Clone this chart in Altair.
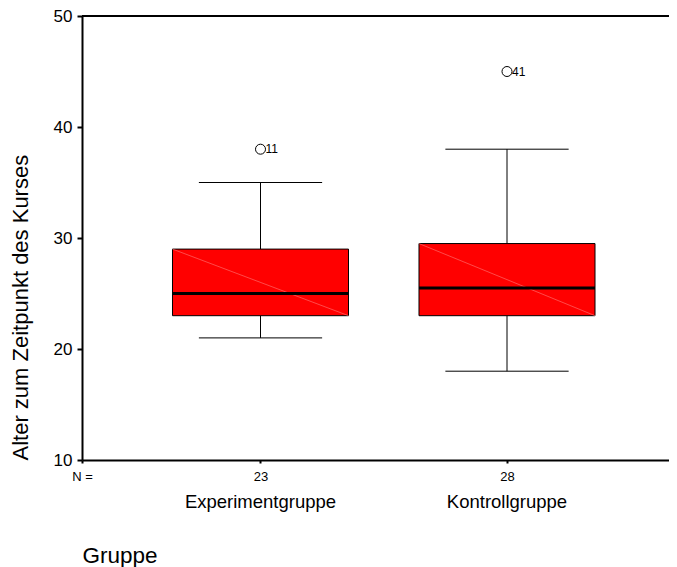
import altair as alt
import pandas as pd

# ---- data ----
groups = ["Experimentgruppe", "Kontrollgruppe"]
n_values = [23, 28]
lower_whisker = [21, 18]
q1 = [23, 23]
median = [25, 25.5]
q3 = [29, 29.5]
upper_whisker = [35, 38]
outlier_values = [38, 45]
outlier_ids = ["11", "41"]
y_ticks = [10, 20, 30, 40, 50]

# ---- layout constants ----
FONT = "Liberation Sans"
PLOT_W = 587
UNIT = 246.5          # pixels per group step
FIRST_CENTER = 178.5  # pixels from the left axis to the first group centre
X_MIN = 1 - FIRST_CENTER / UNIT
X_MAX = X_MIN + PLOT_W / UNIT
BOX_HALF = 0.357
CAP_HALF = 0.25

pos = [i + 1 for i in range(len(groups))]
df = pd.DataFrame({
    "group": groups, "pos": pos, "n": n_values,
    "lw": lower_whisker, "q1": q1, "med": median, "q3": q3, "uw": upper_whisker,
})
df_out = pd.DataFrame({"pos": pos, "value": outlier_values, "id": outlier_ids})

label_expr = "datum.value < 0.5 ? 'N =' : " + " : ".join(
    f"datum.value < {p + 0.5} ? '{n}'" for p, n in zip(pos[:-1], n_values[:-1])
) + f" : '{n_values[-1]}'"

X_SCALE = alt.Scale(domain=[X_MIN, X_MAX], nice=False, zero=False)
Y_SCALE = alt.Scale(domain=[10, 50], nice=False, zero=False)
X_AXIS = alt.Axis(
    title="Gruppe", values=[X_MIN] + pos, labelExpr=label_expr, grid=False,
    tickSize=3, tickWidth=2, tickColor="black", domainColor="black", domainWidth=2,
    labelFontSize=13, labelBaseline="alphabetic", labelPadding=17, labelFlush=False,
    labelOverlap=False, labelColor="black", labelFont=FONT,
    titleFont=FONT, titleFontSize=22.5, titleFontWeight="normal", titleColor="black",
    titleX=0, titleY=102, titleAlign="left", titleBaseline="alphabetic", titleAnchor="start",
)
Y_AXIS = alt.Axis(
    title="Alter zum Zeitpunkt des Kurses", values=y_ticks, grid=False,
    tickSize=5, tickWidth=2, tickColor="black", domainColor="black", domainWidth=2,
    labelFontSize=17, labelPadding=5, labelColor="black", labelFont=FONT,
    titleFont=FONT, titleFontSize=22, titleFontWeight="normal", titleColor="black",
    titleX=-62, titleY=444, titleAngle=270, titleAlign="left", titleBaseline="middle",
)

def X(field):
    return alt.X(field, type="quantitative", scale=X_SCALE, axis=X_AXIS)

def Y(field):
    return alt.Y(field, type="quantitative", scale=Y_SCALE, axis=Y_AXIS)

base = alt.Chart(df).transform_calculate(
    box_l=f"datum.pos - {BOX_HALF}", box_r=f"datum.pos + {BOX_HALF}",
    cap_l=f"datum.pos - {CAP_HALF}", cap_r=f"datum.pos + {CAP_HALF}",
)

whisk_up = base.mark_rule(color="black", strokeWidth=1).encode(x=X("pos"), y=Y("q3"), y2="uw")
whisk_lo = base.mark_rule(color="black", strokeWidth=1).encode(x=X("pos"), y=Y("lw"), y2="q1")
cap_up = base.mark_rule(color="black", strokeWidth=1).encode(x=X("cap_l"), x2="cap_r", y=Y("uw"))
cap_lo = base.mark_rule(color="black", strokeWidth=1).encode(x=X("cap_l"), x2="cap_r", y=Y("lw"))
box = base.mark_rect(fill="#ff0000", stroke="black", strokeWidth=1).encode(
    x=X("box_l"), x2="box_r", y=Y("q1"), y2="q3")
diag = base.mark_rule(color="#ff7a7a", strokeWidth=0.6).encode(
    x=X("box_l"), x2="box_r", y=Y("q3"), y2="q1")
med = base.mark_rule(color="black", strokeWidth=3).encode(x=X("box_l"), x2="box_r", y=Y("med"))
names = base.mark_text(font=FONT, fontSize=18.5, color="black", align="center",
                       baseline="alphabetic").encode(x=X("pos"), y=alt.value(492), text="group")

outl = alt.Chart(df_out).mark_point(shape="circle", filled=False, color="black",
                                    size=100, strokeWidth=1, opacity=1).encode(
    x=X("pos"), y=Y("value"))
outl_lab = alt.Chart(df_out).mark_text(font=FONT, fontSize=12, color="black", align="left",
                                       baseline="middle", dx=5).encode(
    x=X("pos"), y=Y("value"), text="id")

top_line = alt.Chart(df).mark_rule(color="black", strokeWidth=2).encode(
    y=alt.Y(datum=50, type="quantitative", scale=Y_SCALE, axis=Y_AXIS))

chart = alt.layer(
    whisk_up, whisk_lo, cap_up, cap_lo, box, diag, med, outl, outl_lab, names, top_line
).properties(
    width=PLOT_W, height=444,
    autosize=alt.AutoSizeParams(type="none"),
    padding={"left": 74, "top": 8, "right": 0, "bottom": 108},
).configure_view(stroke=None).configure(font=FONT)

chart.save("out.html", embed_options={"renderer": "svg", "actions": False})
